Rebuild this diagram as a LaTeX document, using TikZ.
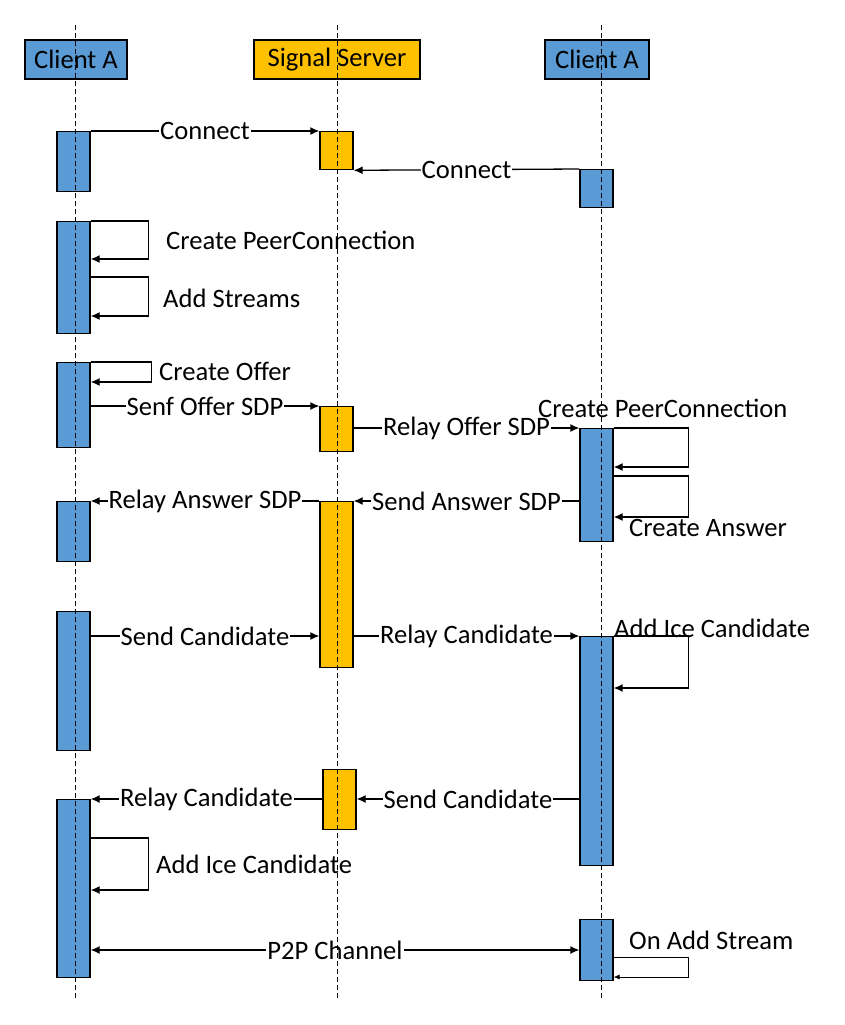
\documentclass[tikz,border=0pt]{standalone}
\usepackage{fontspec}
\setmainfont{Carlito}
\usetikzlibrary{arrows.meta}
\definecolor{clientblue}{HTML}{5B9BD5}
\definecolor{serverorange}{HTML}{FFC000}

\begin{document}
\begin{tikzpicture}[x=1pt,y=-1pt]
                \useasboundingbox (0,0) rectangle (845,1025);
                \begin{scope}[every node/.style={draw, line width=1.3pt, inner sep=0, minimum height=39pt, font=\fontsize{26.6}{30}\selectfont}]
                        \node[fill=clientblue, minimum width=102pt] (HeadA) at (76,59.5) {Client A};
                        \node[fill=serverorange, minimum width=166pt] (HeadS) at (337,59.5) {Signal Server};
                        \node[fill=clientblue, minimum width=104pt] (HeadB) at (597,59.5) {Client A};
                \end{scope}
                \begin{scope}[every node/.style={draw, line width=1.3pt, inner sep=0, minimum width=33pt, anchor=north}]
                        \node[fill=clientblue, minimum height=60pt] (A1) at (73.5,131) {};
                        \node[fill=clientblue, minimum height=112pt] (A2) at (73.5,221) {};
                        \node[fill=clientblue, minimum height=85pt] (A3) at (73.5,362) {};
                        \node[fill=clientblue, minimum height=60pt] (A4) at (73.5,501) {};
                        \node[fill=clientblue, minimum height=139pt] (A5) at (73.5,611) {};
                        \node[fill=clientblue, minimum height=178pt] (A6) at (73.5,799) {};
                        \node[fill=serverorange, minimum height=38pt] (S1) at (336.5,131) {};
                        \node[fill=serverorange, minimum height=45pt] (S2) at (336.5,406) {};
                        \node[fill=serverorange, minimum height=166pt] (S3) at (336.5,501) {};
                        \node[fill=serverorange, minimum height=60pt] (S4) at (339.5,769) {};
                        \node[fill=clientblue, minimum height=38pt] (B1) at (596.5,169) {};
                        \node[fill=clientblue, minimum height=113pt] (B2) at (596.5,428) {};
                        \node[fill=clientblue, minimum height=229pt] (B3) at (596.5,636) {};
                        \node[fill=clientblue, minimum height=61pt] (B4) at (596.5,919) {};
                \end{scope}
                \coordinate (P2P) at (337,950);
                \begin{scope}[every node/.style={fill=white, inner sep=1pt, font=\fontsize{26.6}{30}\selectfont}, every path/.style={line width=1.3pt, -{Latex[length=9pt,width=8pt]}}]
                        \path (A1.north east) edge node {Connect} (S1.north west);
                        \path (B1.north west) edge node {Connect} (S1.south east);
                        \draw (A2.north east) -- ++(58,0) -- ++(0,38) -- ++(-58,0);
                        \draw (A2.north east) ++(0,56) -- ++(58,0) -- ++(0,39) -- ++(-58,0);
                        \draw (A3.north east) -- ++(61,0) -- ++(0,20) -- ++(-61,0);
                        \path (A3.east |- S2.north) edge node {Senf Offer SDP} (S2.north west);
                        \path (S2.east |- B2.north) edge node {Relay Offer SDP} (B2.north west);
                        \draw (B2.north east) -- ++(75,0) -- ++(0,39) -- ++(-75,0);
                        \draw (B2.north east) ++(0,48) -- ++(75,0) -- ++(0,41) -- ++(-75,0);
                        \path (B2.west |- S3.north) edge node {Send Answer SDP} (S3.north east);
                        \path (S3.north west) edge node {Relay Answer SDP} (A4.north east);
                        \path (A5.east |- B3.north) edge node {Send Candidate} (S3.west |- B3.north);
                        \path (S3.east |- B3.north) edge node {Relay Candidate} (B3.north west);
                        \draw (B3.north east) -- ++(75,0) -- ++(0,52) -- ++(-75,0);
                        \path (B3.west |- A6.north) edge node {Send Candidate} (S4.east |- A6.north);
                        \path (S4.west |- A6.north) edge node {Relay Candidate} (A6.north east);
                        \draw (A6.north east) ++(0,39) -- ++(58,0) -- ++(0,52) -- ++(-58,0);
                        \path (A6.east |- P2P) edge[{Latex[length=9pt,width=8pt]}-{Latex[length=9pt,width=8pt]}] node {P2P Channel} (B4.west |- P2P);
                        \draw[line width=0.6pt, -{Latex[length=6pt,width=5pt]}] (B4.north east) ++(0,38) -- ++(75,0) -- ++(0,20) -- ++(-75,0);
                \end{scope}
                \begin{scope}[every node/.style={inner sep=1pt, anchor=west, font=\fontsize{26.6}{30}\selectfont}]
                        \node (CreatePC1) at (165,240) {Create PeerConnection};
                        \node (AddStreams) at (162,298) {Add Streams};
                        \node (CreateOffer) at (158,371) {Create Offer};
                        \node (CreatePC2) at (537,408) {Create PeerConnection};
                        \node (CreateAnswer) at (628,528) {Create Answer};
                        \node (AddIce1) at (613,628) {Add Ice Candidate};
                        \node (AddIce2) at (155,864) {Add Ice Candidate};
                        \node (OnAddStream) at (628,940) {On Add Stream};
                \end{scope}
                \begin{scope}[every path/.style={line width=0.7pt, dash pattern=on 5pt off 3pt}]
                        \draw (75,25) -- (75,1000);
                        \draw (337,25) -- (337,1000);
                        \draw (601,25) -- (601,1000);
                \end{scope}
        \end{tikzpicture}
\end{document}
